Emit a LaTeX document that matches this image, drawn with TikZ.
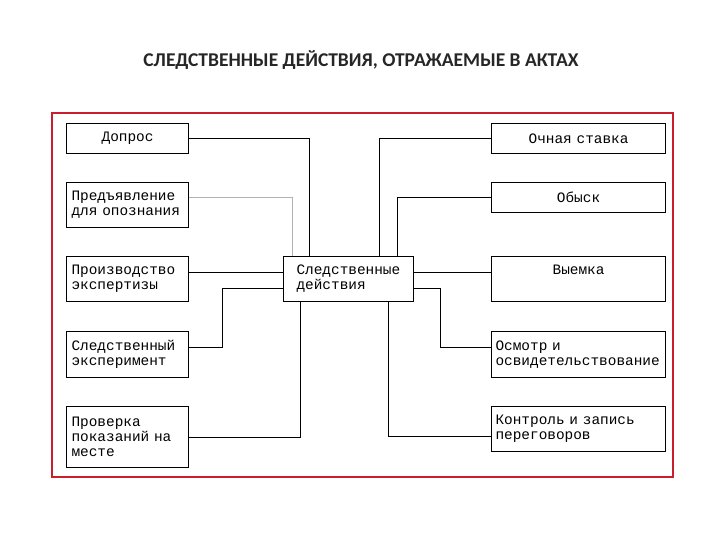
\documentclass[tikz,border=0pt]{standalone}
\usepackage{fontspec}
\newfontfamily\mono{Liberation Mono}
\newfontfamily\titlefont{Carlito}
\definecolor{framered}{RGB}{200,30,45}
\begin{document}
\begin{tikzpicture}[x=1pt,y=-1pt,
  box/.style={draw, line width=1.1pt, inner ysep=0pt, anchor=north west,
    font=\mono\fontsize{14.4}{15}\selectfont, text=black},
  lbox/.style={box, inner xsep=5pt, text width=112pt},
  rbox/.style={box, inner xsep=4pt, text width=166pt},
  conn/.style={line width=0.9pt},
  pale/.style={line width=0.9pt, draw=black!30}]
\useasboundingbox (0,0) rectangle (720,540);
\node[font=\titlefont\bfseries\fontsize{19.5}{22}\selectfont, text=black!85] (title) at (361,60)
  {СЛЕДСТВЕННЫЕ ДЕЙСТВИЯ, ОТРАЖАЕМЫЕ В АКТАХ};
\draw[framered, line width=1.8pt] (52,113) rectangle (673,477);
% left boxes
\node[lbox, align=center, minimum height=30pt] (dopros) at (66,123) {Допрос};
\node[lbox, align=left, minimum height=45pt] (predj) at (66,182) {Предъявление\\для опознания};
\node[lbox, align=left, minimum height=45pt] (proizv) at (66,256) {Производство\\экспертизы};
\node[lbox, align=left, minimum height=46pt] (exper) at (66,331) {Следственный\\эксперимент};
\node[lbox, align=left, minimum height=61pt] (prov) at (66,406) {Проверка\\показаний на\\месте};
% right boxes
\node[rbox, align=center, minimum height=30pt] (ochn) at (491,123) {Очная ставка};
\node[rbox, align=center, minimum height=30pt] (obysk) at (491,182) {Обыск};
\node[rbox, align=center, minimum height=45pt] (vyem) at (491,256) {Выемка\\\strut};
\node[rbox, align=left, minimum height=46pt] (osm) at (491,331) {Осмотр и\\освидетельствование};
\node[rbox, align=left, minimum height=45pt] (kontr) at (491,406) {Контроль и запись\\переговоров};
% center
\node[box, inner xsep=13pt, text width=104pt, align=left, minimum height=45pt] (cent) at (283,256)
  {Следственные\\действия};
\coordinate (cL2) at ([yshift=-9.5pt]cent.west);
\coordinate (cR2) at ([yshift=-9.5pt]cent.east);
% connectors left
\draw[conn] (dopros.east) -| ([xshift=26pt]cent.north west);
\draw[pale] ([yshift=7.5pt]predj.east) -| ([xshift=9pt]cent.north west);
\draw[conn] ([yshift=6.5pt]proizv.east) -- ([yshift=6.5pt]cent.west);
\draw[conn] ([yshift=7pt]exper.east) -| ([xshift=-61pt]cL2) -- (cL2);
\draw[conn] (prov.east) -| ([xshift=17pt]cent.south west);
% connectors right
\draw[conn] (ochn.west) -| ([xshift=-35pt]cent.north east);
\draw[conn] (obysk.west) -| ([xshift=-17pt]cent.north east);
\draw[conn] ([yshift=6.5pt]vyem.west) -- ([yshift=6.5pt]cent.east);
\draw[conn] ([yshift=7pt]osm.west) -| ([xshift=26pt]cR2) -- (cR2);
\draw[conn] ([yshift=-7.5pt]kontr.west) -| ([xshift=-26pt]cent.south east);
\end{tikzpicture}
\end{document}
